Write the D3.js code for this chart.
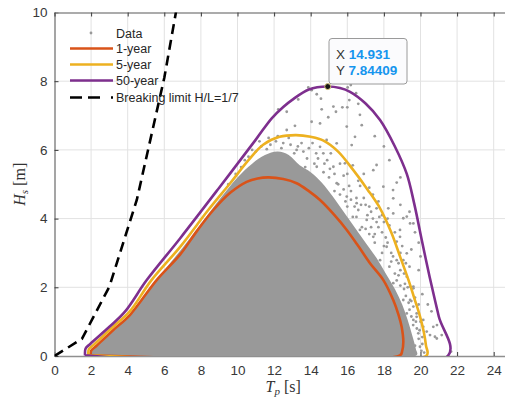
<!DOCTYPE html>
<html>
<head>
<meta charset="utf-8">
<script src="https://cdn.jsdelivr.net/npm/d3@7"></script>
<style>
  body { margin: 0; background: #fff; }
  svg { display: block; font-family: "Liberation Sans", Arial, sans-serif; }
</style>
</head>
<body>
<div id="chart"></div>
<script>
// axis ticks
const xTicks = [0, 2, 4, 6, 8, 10, 12, 14, 16, 18, 20, 22, 24];
const yTicks = [0, 2, 4, 6, 8, 10];

// contour lines [Tp, Hs]
const contour1yr = [
  [1.98, 0.02], [2.0, 0.15], [2.3, 0.3], [3.2, 0.75], [4.13, 1.2], [5.58, 2.21], [6.86, 2.95],
  [7.8, 3.65], [8.68, 4.25], [9.6, 4.75], [10.5, 5.07], [11.1, 5.17], [11.7, 5.2], [12.5, 5.15],
  [13.23, 5.03], [13.9, 4.8], [14.51, 4.54], [15.3, 4.1], [15.97, 3.67], [16.6, 3.2], [17.24, 2.7],
  [17.97, 2.21], [18.51, 1.63], [18.8, 1.2], [18.97, 0.85], [19.06, 0.4], [19.0, 0.15], [18.88, 0.02],
  [1.98, 0.02]
];
const contour5yr = [
  [1.85, 0.02], [1.88, 0.2], [2.15, 0.33], [3.2, 0.85], [4.1, 1.29], [5.3, 2.21], [6.9, 3.2],
  [8.4, 4.25], [9.6, 5.03], [10.6, 5.7], [11.4, 6.15], [12.3, 6.38], [13.2, 6.43], [14.0, 6.38],
  [14.7, 6.27], [15.5, 5.95], [16.33, 5.41], [17.1, 4.85], [17.79, 4.3], [18.4, 3.6], [18.88, 2.9],
  [19.35, 2.2], [19.65, 1.7], [19.95, 1.2], [20.18, 0.7], [20.3, 0.3], [20.34, 0.02], [1.85, 0.02]
];
const contour50yr = [
  [1.67, 0.02], [1.7, 0.22], [1.95, 0.35], [3.0, 0.85], [3.85, 1.29], [5.04, 2.21], [6.87, 3.43],
  [9.0, 4.9], [11.0, 6.3], [11.87, 6.92], [12.5, 7.25], [12.97, 7.45], [13.9, 7.76], [14.931, 7.844],
  [15.6, 7.8], [16.15, 7.69], [17.0, 7.35], [17.79, 6.87], [18.6, 6.1], [19.25, 5.3], [19.65, 4.45],
  [20.1, 3.3], [20.5, 2.3], [21.0, 1.15], [21.52, 0.02], [1.67, 0.02]
];

// breaking limit H/L = 1/7
const breakingT = [0, 1.5, 3, 4.5, 6, 7.5];
const breakingH = [0, 0.5, 2.02, 4.55, 8.1, 12.6];

// outline of the dense part of the scatter
const denseCloud = [
  [2.05, 0.03], [2.1, 0.18], [3.0, 0.62], [4.2, 1.22], [5.0, 1.8], [6.0, 2.5], [7.0, 3.15],
  [8.0, 3.85], [9.0, 4.55], [10.0, 5.2], [10.8, 5.6], [11.5, 5.85], [12.2, 5.95], [12.8, 5.85],
  [13.4, 5.55], [14.0, 5.35], [14.6, 5.05], [15.2, 4.65], [15.8, 4.2], [16.4, 3.75], [17.0, 3.3],
  [17.6, 2.85], [18.1, 2.4], [18.6, 1.95], [19.0, 1.5], [19.3, 1.05], [19.55, 0.6], [19.75, 0.2],
  [19.8, 0.03]
];

// scattered sea states outside the dense cloud
const sparsePoints = [
  [13.87, 7.82], [14.05, 7.74], [13.32, 7.47], [12.23, 7.18], [12.69, 7.11], [14.33, 7.62], [14.56, 7.49],
  [14.6, 7.18], [14.96, 6.95], [15.24, 7.26], [15.38, 7.11], [15.73, 7.24], [16.0, 7.24], [16.11, 7.45],
  [16.19, 7.89], [16.02, 7.82], [16.48, 7.65], [16.6, 7.34], [16.69, 7.02],
  [13.14, 6.7], [12.69, 6.58], [14.05, 6.82], [14.51, 6.77], [15.97, 6.68], [16.79, 6.72], [16.42, 6.38],
  [16.24, 6.14], [15.87, 5.61], [17.42, 5.41], [17.6, 5.56], [17.97, 4.93], [18.51, 4.59], [18.9, 5.2],
  [18.7, 5.05], [18.5, 4.83], [18.24, 4.3], [19.25, 4.06], [19.61, 3.86], [18.88, 3.67], [18.15, 3.18],
  [18.7, 2.79], [17.79, 2.79], [19.25, 2.31], [19.61, 2.02], [18.51, 2.12], [14.69, 5.9], [15.24, 5.51],
  [14.33, 5.51], [13.96, 5.22], [15.42, 5.03], [15.97, 4.64], [16.51, 4.45], [17.06, 3.96], [16.69, 3.67],
  [17.42, 3.47], [14.51, 6.09], [14.87, 6.29], [15.42, 6.19], [13.23, 6.0],
  [18.51, 4.15], [19.06, 4.01], [19.43, 3.86], [18.7, 3.33], [19.61, 1.97], [19.43, 1.63], [19.79, 1.24],
  [19.61, 1.05], [20.15, 1.05], [20.34, 0.71], [20.52, 0.61], [20.79, 0.56], [21.16, 0.61], [20.7, 0.85],
  [19.06, 2.79], [19.25, 2.99], [18.88, 3.47],
  [19.43, 2.02], [19.06, 1.63], [19.61, 1.44], [19.79, 1.14], [19.25, 1.24], [20.15, 0.85], [19.88, 0.66],
  [20.89, 0.51], [19.43, 0.37], [19.97, 0.27], [21.67, 0.13], [18.51, 1.92], [18.7, 1.44],
  [9.5, 5.0], [10.2, 5.5], [10.6, 5.8], [11.0, 5.95], [11.3, 6.1], [11.8, 6.15], [12.1, 6.25],
  [12.5, 6.2], [12.9, 6.15], [13.3, 6.1], [13.6, 5.95], [13.8, 5.75], [14.2, 5.6], [13.1, 5.9],
  [12.4, 6.05], [11.6, 6.02],
  [15.6, 4.7], [16.0, 4.35], [16.3, 4.05], [16.8, 3.75], [17.2, 3.55], [17.5, 3.3], [17.9, 3.0],
  [18.3, 2.6], [18.6, 2.4], [18.9, 2.05], [19.2, 1.75], [19.4, 1.35], [19.6, 0.9], [19.9, 0.5],
  [20.05, 0.15], [16.6, 4.25], [17.0, 4.4], [17.4, 4.0], [17.7, 3.75], [18.1, 3.45], [18.4, 3.0],
  [18.9, 2.5], [15.0, 5.2], [15.5, 5.0], [16.2, 4.8], [16.9, 4.6], [17.3, 4.2], [16.0, 5.3],
  [16.6, 5.1], [17.2, 4.9], [17.7, 4.5], [18.2, 4.0],
  [18.3, 5.7], [18.0, 6.1], [17.5, 6.4], [18.9, 4.4], [19.5, 3.1], [19.9, 2.5], [20.1, 1.8],
  [20.6, 1.3], [20.9, 0.9], [20.4, 1.5],
  [13.5, 6.2], [13.9, 6.05], [14.3, 5.9], [14.1, 6.2], [14.9, 5.7], [15.1, 5.9], [15.6, 5.6],
  [15.3, 5.3], [15.8, 5.25], [16.3, 5.55], [16.7, 4.95], [16.9, 5.3], [17.4, 4.7], [16.1, 4.95],
  [15.8, 4.85], [16.5, 4.6], [14.7, 5.35], [14.4, 5.75], [13.7, 5.5], [12.8, 6.35], [12.2, 6.4],
  [11.7, 6.35], [11.2, 6.25], [10.8, 6.0], [10.4, 5.7], [9.9, 5.3],
  [17.6, 3.9], [17.9, 3.6], [18.2, 3.3], [18.5, 2.9], [18.8, 2.7], [19.1, 2.4], [19.4, 2.6],
  [19.7, 1.7], [19.9, 1.5], [20.0, 1.0], [20.1, 0.55], [19.8, 0.8], [19.5, 1.6], [19.3, 2.0],
  [18.9, 3.0], [18.6, 3.6], [18.3, 3.8], [17.9, 4.1], [17.6, 4.3], [18.0, 3.9], [19.0, 3.2],
  [19.2, 2.7], [19.7, 0.3], [20.1, 0.35], [20.2, 0.1], [17.1, 4.1], [16.4, 4.35], [16.2, 4.55],
  [17.3, 3.75], [18.7, 2.2], [19.1, 1.95], [19.35, 1.55], [19.5, 1.15], [19.75, 1.0], [19.95, 0.75],
  [19.4, 4.2], [19.7, 3.6], [19.9, 3.3], [20.0, 2.9],
  [15.3, 4.8], [15.9, 4.5], [16.5, 4.05], [17.0, 3.7], [17.5, 3.55], [18.0, 3.2], [18.4, 2.75],
  [18.8, 2.35], [19.15, 2.1], [16.75, 4.4], [17.2, 4.35], [17.75, 4.05], [15.05, 5.45], [14.75, 5.6]
];

// data tip
const tipPoint = [14.931, 7.84409];

const seriesNames = ["Data", "1-year", "5-year", "50-year", "Breaking limit H/L=1/7"];
const seriesColors = ["#999999", "#D95319", "#EDB120", "#7E2F8E", "#000000"];

const W = 505, H = 398;
const x = d3.scaleLinear().domain([0, 25]).range([54.5, 512]);
const y = d3.scaleLinear().domain([0, 10]).range([356, 12.5]);

const svg = d3.select("#chart").append("svg").attr("width", W).attr("height", H);

svg.append("clipPath").attr("id", "plotclip")
  .append("rect")
  .attr("x", x(0)).attr("y", y(10))
  .attr("width", x(25) - x(0)).attr("height", y(0) - y(10));

// grid
const grid = svg.append("g");
grid.selectAll("line.gx").data(xTicks.filter(d => d > 0)).enter().append("line")
  .attr("x1", d => x(d)).attr("x2", d => x(d))
  .attr("y1", y(0)).attr("y2", y(10))
  .attr("stroke", "#e2e2e2").attr("stroke-width", 1);
grid.selectAll("line.gy").data(yTicks.filter(d => d > 0 && d < 10)).enter().append("line")
  .attr("x1", x(0)).attr("x2", x(25))
  .attr("y1", d => y(d)).attr("y2", d => y(d))
  .attr("stroke", "#e2e2e2").attr("stroke-width", 1);

// axes
const xAxis = d3.axisBottom(x).tickValues(xTicks).tickSizeInner(-4).tickSizeOuter(0).tickPadding(9);
const yAxis = d3.axisLeft(y).tickValues(yTicks).tickSizeInner(-4).tickSizeOuter(0).tickPadding(7);
const xTop = d3.axisTop(x).tickValues(xTicks).tickSizeInner(-4).tickSizeOuter(0).tickFormat("");
const yRight = d3.axisRight(y).tickValues(yTicks).tickSizeInner(-4).tickSizeOuter(0).tickFormat("");

function styleAxis(g) {
  g.select(".domain").attr("stroke", "#8f8f8f").attr("stroke-width", 1.6);
  g.selectAll(".tick line").attr("stroke", "#3a3a3a").attr("stroke-width", 1);
  g.selectAll(".tick text").attr("fill", "#383838").style("font-size", "13.5px")
    .style("font-family", '"Liberation Sans", Arial, sans-serif');
}
svg.append("g").attr("transform", `translate(0,${y(0)})`).call(xAxis).call(styleAxis);
svg.append("g").attr("transform", `translate(${x(0)},0)`).call(yAxis).call(styleAxis);
svg.append("g").attr("transform", `translate(0,${y(10)})`).call(xTop).call(styleAxis);
svg.append("g").attr("transform", `translate(${x(25)},0)`).call(yRight).call(styleAxis);

const plot = svg.append("g").attr("clip-path", "url(#plotclip)");

// data cloud
plot.append("path")
  .datum(denseCloud)
  .attr("d", d3.line().x(d => x(d[0])).y(d => y(d[1])).curve(d3.curveCatmullRomClosed.alpha(0.5)))
  .attr("fill", seriesColors[0]);

plot.selectAll("circle.pt").data(sparsePoints).enter().append("circle")
  .attr("cx", d => x(d[0])).attr("cy", d => y(d[1]))
  .attr("r", 1.4).attr("fill", seriesColors[0]);

// contours
const smooth = d3.line().x(d => x(d[0])).y(d => y(d[1])).curve(d3.curveCatmullRom.alpha(0.5));
[contour1yr, contour5yr, contour50yr].forEach((c, i) => {
  plot.append("path").datum(c).attr("d", smooth)
    .attr("fill", "none").attr("stroke", seriesColors[i + 1])
    .attr("stroke-width", 2.6).attr("stroke-linejoin", "round");
});

// breaking limit
const breaking = breakingT.map((t, i) => [t, breakingH[i]]);
plot.append("path").datum(breaking)
  .attr("d", d3.line().x(d => x(d[0])).y(d => y(d[1])))
  .attr("fill", "none").attr("stroke", "#000").attr("stroke-width", 2.6)
  .attr("stroke-dasharray", "10,6");

// axis labels
const xl = svg.append("text").attr("x", x(12.5)).attr("y", 392)
  .attr("text-anchor", "middle").attr("fill", "#333")
  .style("font-family", '"Liberation Serif", "DejaVu Serif", serif').style("font-size", "16px");
xl.append("tspan").attr("font-style", "italic").text("T");
xl.append("tspan").attr("font-style", "italic").attr("font-size", "11px").attr("dy", 3).text("p");
xl.append("tspan").attr("dy", -3).text(" [s]");

const yl = svg.append("text").attr("transform", `translate(25,${y(5)}) rotate(-90)`)
  .attr("text-anchor", "middle").attr("fill", "#333")
  .style("font-family", '"Liberation Serif", "DejaVu Serif", serif').style("font-size", "16px");
yl.append("tspan").attr("font-style", "italic").text("H");
yl.append("tspan").attr("font-style", "italic").attr("font-size", "11px").attr("dy", 3).text("s");
yl.append("tspan").attr("dy", -3).text(" [m]");

// data tip
const tip = svg.append("g");
tip.append("rect").attr("x", 329).attr("y", 38.5).attr("width", 78).attr("height", 45.5)
  .attr("rx", 3).attr("fill", "#fbfbfd").attr("stroke", "#9a9a9a").attr("stroke-width", 1);
const tipRows = [["X", "14.931"], ["Y", "7.84409"]];
tipRows.forEach((r, i) => {
  const t = tip.append("text").attr("x", 336).attr("y", 58.5 + i * 16.5).style("font-size", "13.5px");
  t.append("tspan").attr("fill", "#333").text(r[0] + " ");
  t.append("tspan").attr("fill", "#1595ee").attr("font-weight", "bold").text(r[1]);
});
tip.append("circle").attr("cx", x(tipPoint[0])).attr("cy", y(tipPoint[1])).attr("r", 3)
  .attr("fill", "#151515").attr("stroke", "#d9c77a").attr("stroke-width", 1);

// legend
const legend = svg.append("g");
const rowY = [33, 48.5, 64.5, 80.5, 97.5];
seriesNames.forEach((name, i) => {
  if (i === 0) {
    legend.append("circle").attr("cx", 91).attr("cy", rowY[i]).attr("r", 1.4).attr("fill", seriesColors[0]);
  } else {
    const ln = legend.append("line").attr("x1", 70).attr("x2", 113)
      .attr("y1", rowY[i]).attr("y2", rowY[i])
      .attr("stroke", seriesColors[i]).attr("stroke-width", 2.6);
    if (i === 4) ln.attr("stroke-dasharray", "12,6,12,11,2");
  }
  legend.append("text").attr("x", 116).attr("y", rowY[i] + 4.5)
    .attr("fill", "#262626").style("font-size", "12.5px").text(name);
});
</script>
</body>
</html>
